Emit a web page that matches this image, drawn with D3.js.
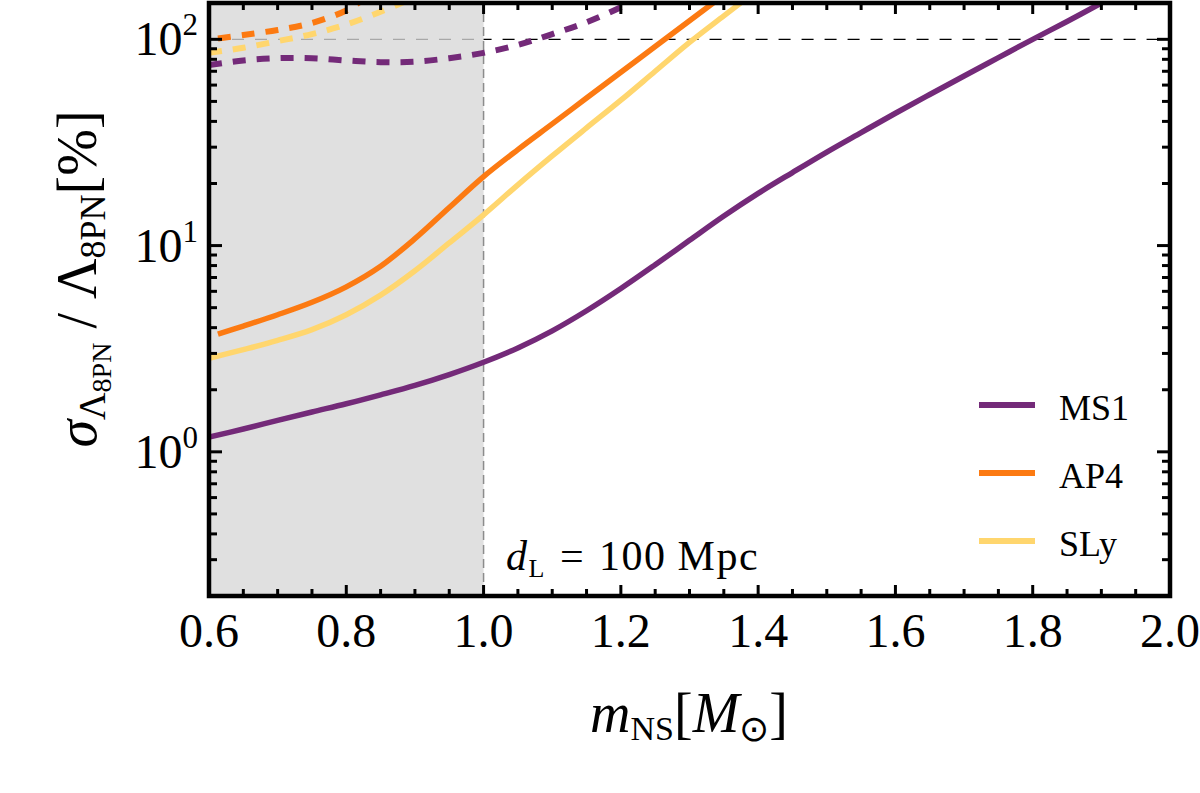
<!DOCTYPE html>
<html>
<head>
<meta charset="utf-8">
<script src="https://cdn.jsdelivr.net/npm/d3@7/dist/d3.min.js"></script>
<style>
  html, body { margin: 0; padding: 0; background: #fff; }
  svg { display: block; }
  svg text { font-family: 'Liberation Serif', serif; }
</style>
</head>
<body>
<svg id="chart" width="1200" height="793"></svg>
<script>
// ---------------- data ----------------
const massGrid = [0.6, 0.65, 0.7, 0.75, 0.8, 0.85, 0.9, 0.95, 1.0, 1.05, 1.1, 1.15, 1.2, 1.25, 1.3, 1.35, 1.4, 1.45, 1.5, 1.55, 1.6, 1.65, 1.7, 1.75, 1.8, 1.85, 1.9];
const ms1Solid = [1.18, 1.29, 1.42, 1.56, 1.71, 1.89, 2.10, 2.37, 2.72, 3.19, 3.86, 4.83, 6.19, 8.07, 10.6, 13.9, 17.9, 22.6, 28.4, 35.3, 43.8, 54.0, 66.4, 81.5, 100, 122, 150];

const ap4Mass = [0.613, 0.65, 0.7, 0.75, 0.8, 0.85, 0.9, 0.95, 1.0, 1.05, 1.1, 1.15, 1.2, 1.25, 1.3, 1.35];
const ap4Solid = [3.72, 4.07, 4.62, 5.31, 6.31, 7.94, 10.8, 15.3, 21.6, 29.2, 38.9, 51.9, 69.2, 92.3, 123, 164];

const slyMass = [0.6, 0.65, 0.7, 0.75, 0.8, 0.85, 0.9, 0.95, 1.0, 1.05, 1.1, 1.15, 1.2, 1.25, 1.3, 1.35, 1.4];
const slySolid = [2.84, 3.13, 3.47, 3.91, 4.62, 5.75, 7.55, 10.3, 14.1, 19.7, 27.2, 37.2, 50.7, 70.0, 96.6, 130, 174];

const ms1DashMass = [0.6, 0.65, 0.7, 0.75, 0.8, 0.85, 0.9, 0.95, 1.0, 1.05, 1.1, 1.15, 1.2, 1.22];
const ms1Dash = [75, 79, 81, 81, 79, 77.5, 78, 81, 86, 94, 106, 121, 143, 155];

const ap4DashMass = [0.613, 0.65, 0.7, 0.75, 0.8, 0.82];
const ap4Dash = [101, 105, 111, 120, 138, 152];

const slyDashMass = [0.6, 0.65, 0.7, 0.75, 0.8, 0.85, 0.89];
const slyDash = [86, 91, 98, 106, 118, 136, 155];

const xMajorTicks = [0.6, 0.8, 1.0, 1.2, 1.4, 1.6, 1.8, 2.0];
const xTickLabels = ["0.6", "0.8", "1.0", "1.2", "1.4", "1.6", "1.8", "2.0"];
const yMajorTicks = [1, 10, 100];
const yTickExponents = ["0", "1", "2"];
const yMinorTicks = [0.2, 0.3, 0.4, 0.5, 0.6, 0.7, 0.8, 0.9, 2, 3, 4, 5, 6, 7, 8, 9, 20, 30, 40, 50, 60, 70, 80, 90];

const seriesNames = ["MS1", "AP4", "SLy"];
const seriesColors = ["#742a79", "#fc7a12", "#ffd66e"];

// ---------------- layout ----------------
const FONT = "Liberation Serif, serif";
const svg = d3.select("#chart");
const L = 209, R = 1170, T = 3, B = 596;
const x = d3.scaleLinear().domain([0.6, 2.0]).range([L, R]);
const y = d3.scaleLog().domain([0.2, 150]).range([B, T]);

svg.append("rect").attr("width", 1200).attr("height", 793).attr("fill", "#fff");

svg.append("defs").append("clipPath").attr("id", "plotclip")
  .append("rect").attr("x", L).attr("y", T).attr("width", R - L).attr("height", B - T);

const plot = svg.append("g").attr("clip-path", "url(#plotclip)");

// shaded region
plot.append("rect")
  .attr("x", x(0.6)).attr("y", T)
  .attr("width", x(1.0) - x(0.6)).attr("height", B - T)
  .attr("fill", "#e0e0e0");

// reference lines
plot.append("line")
  .attr("x1", x(0.6)).attr("x2", x(1.0)).attr("y1", y(100)).attr("y2", y(100))
  .attr("stroke", "#a8a8a8").attr("stroke-width", 1.3).attr("stroke-dasharray", "12,11");
plot.append("line")
  .attr("x1", x(1.0)).attr("x2", x(2.0)).attr("y1", y(100)).attr("y2", y(100))
  .attr("stroke", "#000").attr("stroke-width", 1.3).attr("stroke-dasharray", "12,11")
  .attr("stroke-dashoffset", 4);
plot.append("line")
  .attr("x1", x(1.0)).attr("x2", x(1.0)).attr("y1", B).attr("y2", T)
  .attr("stroke", "#8c8c8c").attr("stroke-width", 1.5).attr("stroke-dasharray", "9,5");

const line = d3.line()
  .x(d => x(d[0])).y(d => y(d[1]))
  .curve(d3.curveCatmullRom.alpha(0.5));

function zip(a, b) { return a.map((v, i) => [v, b[i]]); }

const dashed = [
  [ms1DashMass, ms1Dash, seriesColors[0]],
  [ap4DashMass, ap4Dash, seriesColors[1]],
  [slyDashMass, slyDash, seriesColors[2]]
];
dashed.forEach(([m, v, c]) => {
  plot.append("path").datum(zip(m, v))
    .attr("d", line).attr("fill", "none")
    .attr("stroke", c).attr("stroke-width", 6)
    .attr("stroke-dasharray", "13,11");
});

const solid = [
  [massGrid, ms1Solid, seriesColors[0]],
  [ap4Mass, ap4Solid, seriesColors[1]],
  [slyMass, slySolid, seriesColors[2]]
];
solid.forEach(([m, v, c]) => {
  plot.append("path").datum(zip(m, v))
    .attr("d", line).attr("fill", "none")
    .attr("stroke", c).attr("stroke-width", 5.5);
});

// ---------------- frame & ticks ----------------
const axes = svg.append("g");
const xMinor = d3.range(0.6, 2.0001, 0.05).map(v => +v.toFixed(2))
  .filter(v => !xMajorTicks.some(t => Math.abs(t - v) < 1e-6));

function tick(x1, y1, x2, y2, w) {
  axes.append("line").attr("x1", x1).attr("y1", y1).attr("x2", x2).attr("y2", y2)
    .attr("stroke", "#000").attr("stroke-width", w);
}
xMajorTicks.forEach(v => { tick(x(v), B, x(v), B - 11, 3); tick(x(v), T, x(v), T + 11, 3); });
xMinor.forEach(v => { tick(x(v), B, x(v), B - 7, 3); tick(x(v), T, x(v), T + 7, 3); });
yMajorTicks.forEach(v => { tick(L, y(v), L + 13, y(v), 3); tick(R, y(v), R - 13, y(v), 3); });
yMinorTicks.forEach(v => { tick(L, y(v), L + 8, y(v), 3); tick(R, y(v), R - 8, y(v), 3); });

axes.append("rect").attr("x", L).attr("y", T).attr("width", R - L).attr("height", B - T)
  .attr("fill", "none").attr("stroke", "#000").attr("stroke-width", 4.5);

// x tick labels
svg.append("g").selectAll("text").data(xMajorTicks).join("text")
  .attr("x", d => x(d)).attr("y", 647)
  .attr("text-anchor", "middle").attr("font-size", 48).attr("font-family", FONT)
  .text((d, i) => xTickLabels[i]);

// y tick labels
yMajorTicks.forEach((v, i) => {
  const t = svg.append("text").attr("x", 198).attr("y", y(v) + 16)
    .attr("text-anchor", "end").attr("font-size", 48).attr("font-family", FONT);
  t.append("tspan").text("10");
  t.append("tspan").attr("font-size", 31).attr("dy", -20).text(yTickExponents[i]);
});

// x axis title
const xt = svg.append("text").attr("x", 689).attr("y", 732)
  .attr("text-anchor", "middle").attr("font-size", 56).attr("font-family", FONT);
xt.append("tspan").attr("font-style", "italic").text("m");
xt.append("tspan").attr("font-size", 34).attr("dy", 8).text("NS");
xt.append("tspan").attr("dy", -8).text("[");
xt.append("tspan").attr("font-style", "italic").text("M");
xt.append("tspan").attr("font-size", 36).attr("dy", 9).text("⊙");
xt.append("tspan").attr("dy", -9).text("]");

// y axis title
const yt = svg.append("text")
  .attr("transform", "translate(96,279) rotate(-90)")
  .attr("text-anchor", "middle").attr("font-size", 56).attr("font-family", FONT);
yt.append("tspan").attr("font-style", "italic").text("σ");
yt.append("tspan").attr("font-size", 38).attr("dy", 9).text("Λ");
yt.append("tspan").attr("font-size", 28).attr("dy", 6).text("8PN");
yt.append("tspan").attr("dy", -15).text(" / Λ");
yt.append("tspan").attr("font-size", 36).attr("dy", 9).text("8PN");
yt.append("tspan").attr("dy", -9).text("[%]");

// annotation
const ann = svg.append("text").attr("x", 506).attr("y", 570).attr("font-size", 42)
  .attr("font-family", FONT).attr("letter-spacing", 1.5);
ann.append("tspan").attr("font-style", "italic").text("d");
ann.append("tspan").attr("font-size", 26).attr("dy", 7).text("L");
ann.append("tspan").attr("dy", -7).attr("dx", 14).text("=");
ann.append("tspan").attr("dx", 14).text("100");
ann.append("tspan").attr("dx", 11).text("Mpc");

// legend
const legendY = [405, 473, 541];
seriesNames.forEach((name, i) => {
  svg.append("line").attr("x1", 979).attr("x2", 1035)
    .attr("y1", legendY[i]).attr("y2", legendY[i])
    .attr("stroke", seriesColors[i]).attr("stroke-width", 6);
  svg.append("text").attr("x", 1059).attr("y", legendY[i] + 15)
    .attr("font-size", 36).attr("font-family", FONT).text(name);
});
</script>
</body>
</html>
